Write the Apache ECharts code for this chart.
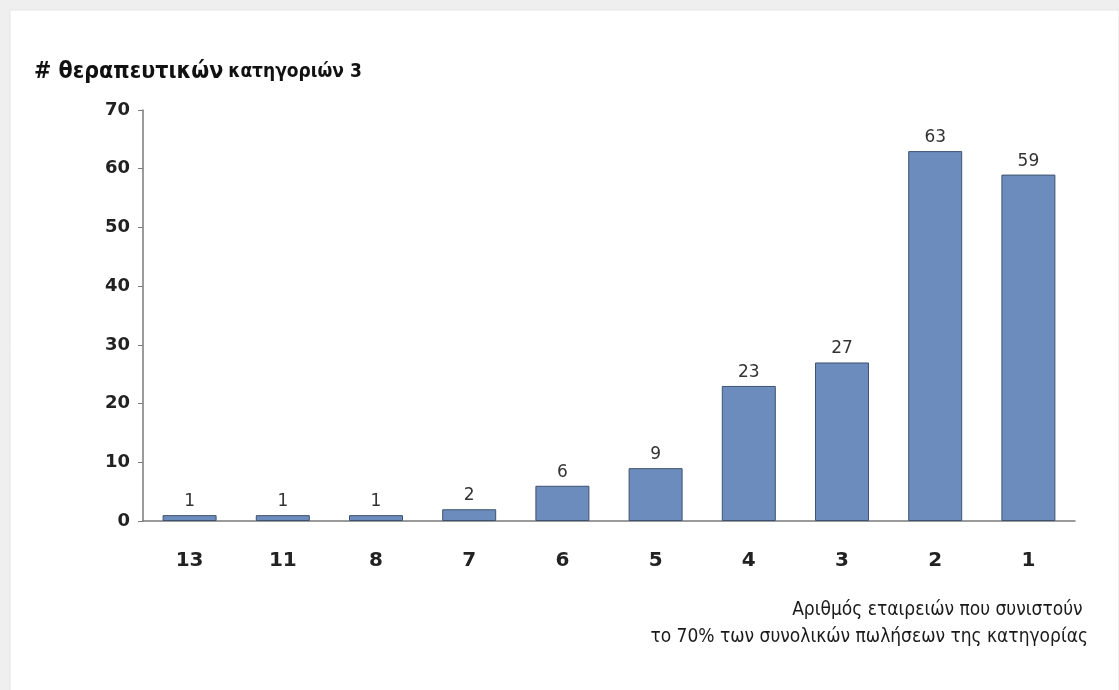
<!DOCTYPE html>
<html>
<head>
<meta charset="utf-8">
<script src="https://cdn.jsdelivr.net/npm/echarts@6/dist/echarts.min.js"></script>
<style>
  html, body { margin: 0; padding: 0; background: #efefef; }
  #chart { width: 1119px; height: 690px; }
</style>
</head>
<body>
<div id="chart"></div>
<script>
// Number of companies making up 70% of a category's total sales
const categories = ['13', '11', '8', '7', '6', '5', '4', '3', '2', '1'];
const counts = [1, 1, 1, 2, 6, 9, 23, 27, 63, 59];
const yTicks = [0, 10, 20, 30, 40, 50, 60, 70];

const titleMain = '# θεραπευτικών';
const titleSub = 'κατηγοριών 3';
const axisNoteLines = [
  'Αριθμός εταιρειών που συνιστούν',
  'το 70% των συνολικών πωλήσεων της κατηγορίας'
];

const condensed = '"DejaVu Sans Condensed", "Liberation Sans Narrow", "DejaVu Sans", sans-serif';
const chart = echarts.init(document.getElementById('chart'));

chart.setOption({
  backgroundColor: '#efefef',
  animation: false,
  graphic: [
    {
      type: 'rect', z: -10,
      shape: { x: 10, y: 10, width: 1109, height: 690 },
      style: { fill: '#ffffff', stroke: '#e4e4e4', lineWidth: 1 }
    },
    {
      // axis note, right-aligned to the plot's right side
      type: 'text', x: 1088, y: 597,
      style: {
        text: axisNoteLines[0] + ' \n' + axisNoteLines[1],
        align: 'right', verticalAlign: 'top',
        font: '19px ' + condensed,
        fill: '#1a1a1a', lineHeight: 27
      }
    }
  ],
  title: {
    text: '{a|' + titleMain + '} {b|' + titleSub + '}',
    left: 29, top: 56,
    textStyle: {
      rich: {
        a: { fontFamily: condensed, fontWeight: 'bold', fontSize: 23, color: '#111' },
        b: { fontFamily: condensed, fontWeight: 'bold', fontSize: 19, color: '#111' }
      }
    }
  },
  grid: { left: 143, right: 44, top: 110, bottom: 169, containLabel: false },
  xAxis: {
    type: 'category',
    data: categories,
    axisLine: { lineStyle: { color: '#7a7a7a', width: 1.5 } },
    axisTick: { show: false },
    axisLabel: {
      margin: 30,
      fontFamily: '"DejaVu Sans", sans-serif',
      fontWeight: 'bold', fontSize: 20, color: '#222'
    }
  },
  yAxis: {
    type: 'value',
    min: yTicks[0], max: yTicks[yTicks.length - 1], interval: 10,
    splitLine: { show: false },
    axisLine: { show: true, lineStyle: { color: '#7a7a7a', width: 1.5 } },
    axisTick: { show: true, length: 5, lineStyle: { color: '#7a7a7a' } },
    axisLabel: {
      margin: 13,
      fontFamily: '"DejaVu Sans", sans-serif',
      fontWeight: 'bold', fontSize: 18, color: '#222'
    }
  },
  series: [{
    type: 'bar',
    data: counts,
    barWidth: 54,
    itemStyle: { color: '#6b8cbc', borderColor: '#3f5270', borderWidth: 1 },
    label: {
      show: true, position: 'top', distance: 5,
      fontFamily: '"DejaVu Sans", sans-serif',
      fontSize: 17, color: '#333'
    }
  }]
});
</script>
</body>
</html>
